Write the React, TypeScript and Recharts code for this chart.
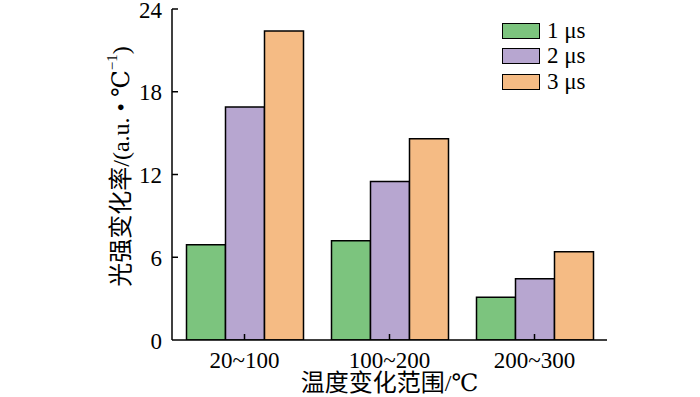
import React from 'react';
import { BarChart, Bar, XAxis, YAxis } from 'recharts';

const categories = ['20~100', '100~200', '200~300'];
const series1us = [6.9, 7.2, 3.1];
const series2us = [16.9, 11.5, 4.45];
const series3us = [22.4, 14.6, 6.4];
const yTicks = [0, 6, 12, 18, 24];

const seriesNames = ['1 μs', '2 μs', '3 μs'];
const colors = ['#7cc47e', '#b7a6d0', '#f5bb84'];

const data = categories.map((c, i) => ({
  name: c,
  s1: series1us[i],
  s2: series2us[i],
  s3: series3us[i],
}));

const FONT = 'Liberation Serif, Times New Roman, DejaVu Serif, Noto Sans CJK SC, serif';
const tickTxt = { fontFamily: FONT, fontSize: 23 };
const labelTxt = { fontFamily: FONT, fontSize: 24 };

const YTick = (props: any) => {
  const { x, y, payload } = props;
  const ax = x + 10;
  return (
    <g>
      {payload.value !== 0 && <line x1={ax} y1={y} x2={ax + 6} y2={y} stroke="#000" strokeWidth={1.5} />}
      <text x={x} y={y + 1} textAnchor="end" dominantBaseline="central" style={tickTxt} fill="#000">
        {payload.value}
      </text>
    </g>
  );
};

const XTick = (props: any) => {
  const { x, y, payload } = props;
  const ay = y - 10;
  return (
    <g>
      <line x1={x} y1={ay} x2={x} y2={ay - 6} stroke="#000" strokeWidth={1.5} />
      <text x={x} y={y + 10} textAnchor="middle" dominantBaseline="central" style={tickTxt} fill="#000">
        {payload.value}
      </text>
    </g>
  );
};

const YLabel = (props: any) => {
  const { viewBox } = props;
  const cx = viewBox.x + 9;
  const cy = viewBox.y + viewBox.height / 2 - 8;
  return (
    <text
      x={cx}
      y={cy}
      transform={`rotate(-90, ${cx}, ${cy})`}
      textAnchor="middle"
      dominantBaseline="central"
      style={labelTxt}
      fill="#000"
    >
      光强变化率/(a.u. • ℃
      <tspan style={{ fontSize: 15 }} dy={-9}>−1</tspan>
      <tspan dy={9}>)</tspan>
    </text>
  );
};

const XLabel = (props: any) => {
  const { viewBox } = props;
  return (
    <text
      x={viewBox.x + viewBox.width / 2}
      y={viewBox.y + 43}
      textAnchor="middle"
      dominantBaseline="central"
      style={labelTxt}
      fill="#000"
    >
      温度变化范围/℃
    </text>
  );
};

const ChartLegend = () => (
  <div style={{ position: 'absolute', left: 502, top: 18, fontFamily: FONT, fontSize: 23, color: '#000' }}>
    {seriesNames.map((n, i) => (
      <div key={n} style={{ display: 'flex', alignItems: 'center', height: 25.5 }}>
        <span
          style={{
            display: 'inline-block',
            width: 36,
            height: 14,
            background: colors[i],
            border: '1.5px solid #000',
            marginRight: 7,
          }}
        />
        <span>{n}</span>
      </div>
    ))}
  </div>
);

export default function App() {
  return (
    <div style={{ position: 'absolute', left: 0, top: 0, width: 700, height: 397, background: '#fff' }}>
      <BarChart
        width={700}
        height={397}
        data={data}
        margin={{ top: 9, right: 93, bottom: 0, left: 112 }}
        barCategoryGap="10%"
        barGap={0}
      >
        <XAxis
          dataKey="name"
          height={57}
          axisLine={{ stroke: '#000', strokeWidth: 1.5 }}
          tickLine={false}
          tickSize={0}
          tickMargin={10}
          tick={<XTick />}
          label={<XLabel />}
        />
        <YAxis
          width={60}
          domain={[0, 24]}
          ticks={yTicks}
          allowDataOverflow
          axisLine={{ stroke: '#000', strokeWidth: 1.5 }}
          tickLine={false}
          tickSize={0}
          tickMargin={10}
          tick={<YTick />}
          label={<YLabel />}
        />
        <Bar dataKey="s1" name={seriesNames[0]} fill={colors[0]} stroke="#000" strokeWidth={1.5} isAnimationActive={false} />
        <Bar dataKey="s2" name={seriesNames[1]} fill={colors[1]} stroke="#000" strokeWidth={1.5} isAnimationActive={false} />
        <Bar dataKey="s3" name={seriesNames[2]} fill={colors[2]} stroke="#000" strokeWidth={1.5} isAnimationActive={false} />
      </BarChart>
      <ChartLegend />
    </div>
  );
}
